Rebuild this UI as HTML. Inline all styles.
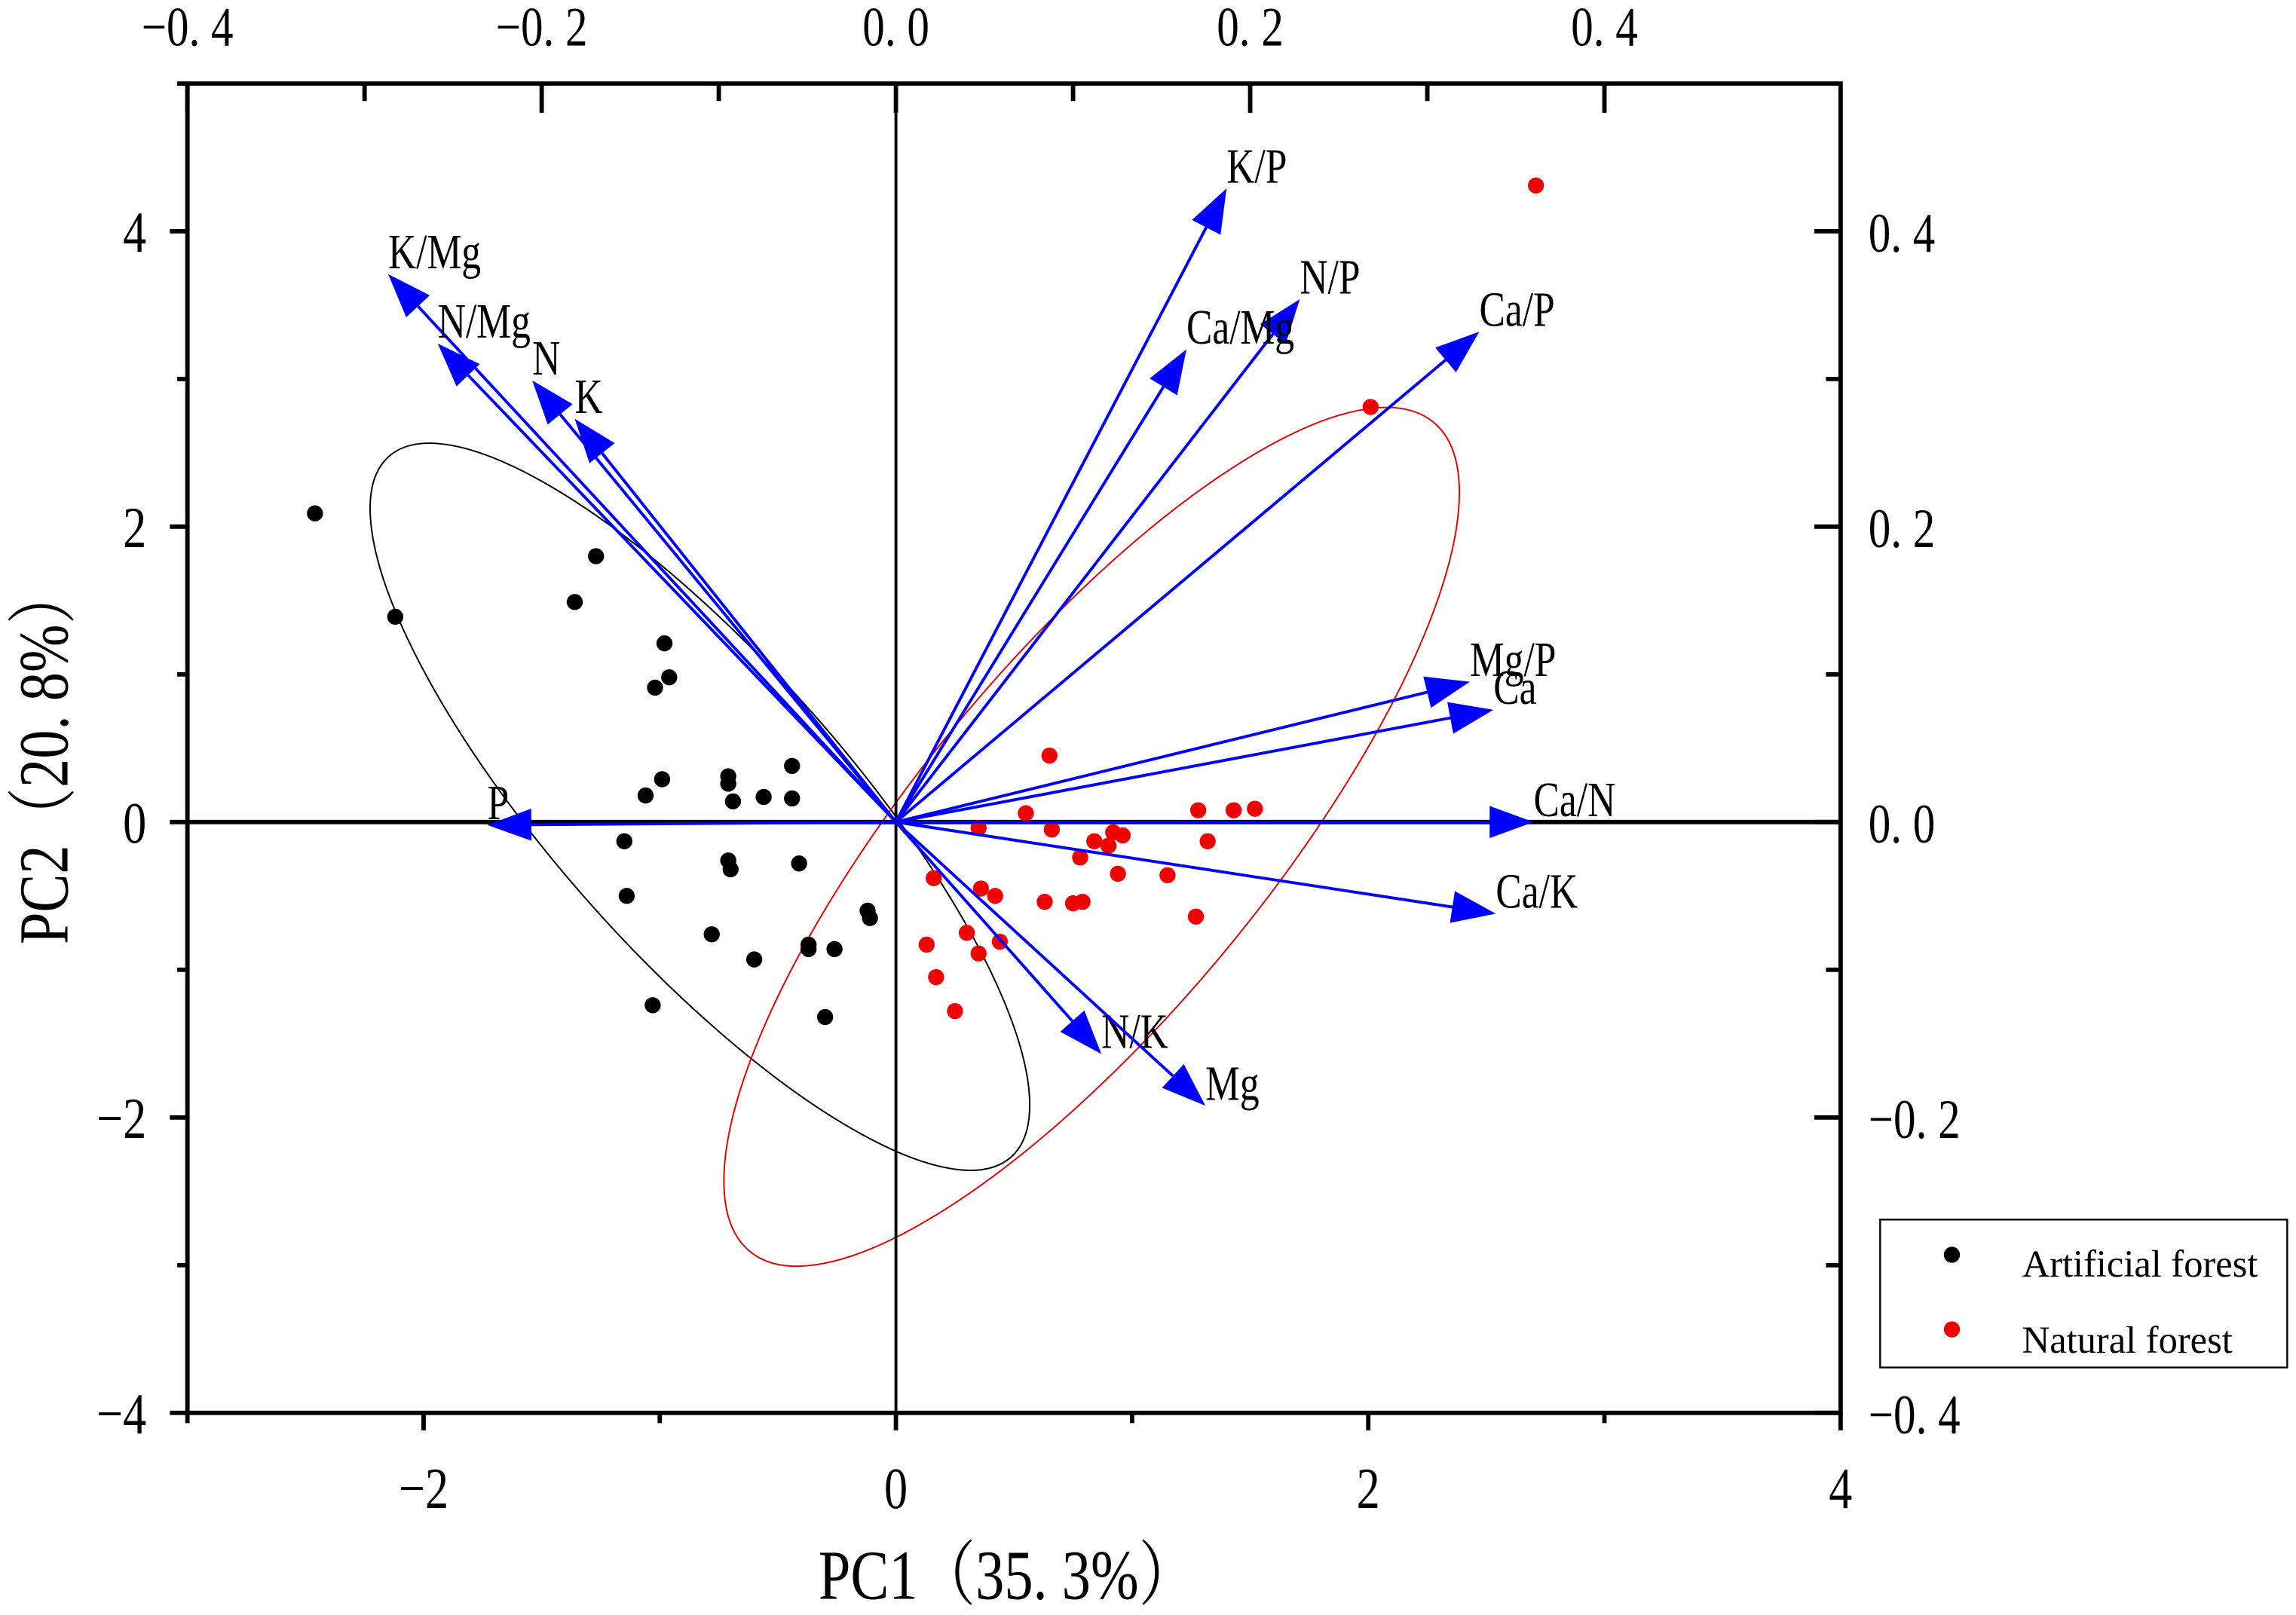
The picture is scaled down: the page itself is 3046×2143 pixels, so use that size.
<!DOCTYPE html>
<html><head><meta charset="utf-8"><style>
html,body{margin:0;padding:0;background:#fff}
svg{display:block}
text{font-family:"Liberation Serif","Noto Serif CJK SC",serif;fill:#000}
</style></head><body>
<svg id="chart" width="3046" height="2143" viewBox="0 0 1568 1103" xmlns="http://www.w3.org/2000/svg">
<g id="plot"></g>
</svg>
<script>
// ---- data ----
const artificialX = [-2.46,-2.12,-1.27,-1.36,-0.98,-1.02,-0.96,-0.99,-1.06,-0.71,-0.71,-0.69,-0.44,-0.56,-0.44,-1.15,-0.71,-0.70,-0.41,-1.14,-0.78,-0.60,-0.37,-0.37,-0.26,-0.12,-0.11,-1.03,-0.30];
const artificialY = [2.09,1.39,1.80,1.49,1.21,0.91,0.98,0.29,0.18,0.31,0.26,0.14,0.38,0.17,0.16,-0.13,-0.26,-0.32,-0.28,-0.50,-0.76,-0.93,-0.83,-0.86,-0.86,-0.60,-0.65,-1.24,-1.32];
const naturalX = [2.71,2.01,0.65,0.55,0.35,0.66,0.84,0.92,0.96,0.90,0.78,1.28,1.43,1.52,1.32,1.15,0.94,0.16,0.36,0.42,0.63,0.75,0.79,1.27,0.13,0.30,0.44,0.35,0.17,0.25];
const naturalY = [4.31,2.81,0.45,0.06,-0.04,-0.05,-0.13,-0.07,-0.09,-0.16,-0.24,0.08,0.08,0.09,-0.13,-0.36,-0.35,-0.38,-0.45,-0.50,-0.54,-0.55,-0.54,-0.64,-0.83,-0.75,-0.81,-0.89,-1.05,-1.28];
const loadingNames = ["K/P","N/P","Ca/Mg","Ca/P","K/Mg","N/Mg","N","K","P","Mg/P","Ca","Ca/N","Ca/K","N/K","Mg"];
const loadingX = [1.40,1.71,1.23,2.47,-2.15,-1.94,-1.54,-1.36,-1.73,2.43,2.53,2.70,2.54,0.87,1.31];
const loadingY = [4.29,3.54,3.20,3.32,3.71,3.24,2.99,2.73,-0.02,0.95,0.76,0.00,-0.62,-1.57,-1.92];
const xTicks = [-2,0,2,4];
const yTicks = [-4,-2,0,2,4];
const topTicks = ["-0.4","-0.2","0.0","0.2","0.4"];
const rightTicks = ["-0.4","-0.2","0.0","0.2","0.4"];

// ---- scales ----
const X0=128,X1=1257,Y0=965,Y1=57, XMIN=-3,XMAX=4,YMIN=-4,YMAX=5;
const sx=v=>X0+(v-XMIN)/(XMAX-XMIN)*(X1-X0);
const sy=v=>Y0-(v-YMIN)/(YMAX-YMIN)*(Y0-Y1);
const NS="http://www.w3.org/2000/svg";
const plot=document.getElementById('plot');
function mk(tag,attrs,parent){const e=document.createElementNS(NS,tag);for(const k in attrs)e.setAttribute(k,attrs[k]);(parent||plot).appendChild(e);return e;}
function txt(s,x,y,size,anchor,sxs){const t=mk('text',{x:0,y:0,'font-size':size,'text-anchor':anchor||'start',transform:`translate(${x},${y}) scale(${sxs||0.8},1)`});t.textContent=s;return t;}

// ellipses
const e1=mk('ellipse',{cx:478,cy:551,rx:320,ry:100,transform:'rotate(48.4 478 551)',fill:'none',stroke:'#000','stroke-width':1});


const e2=mk('ellipse',{cx:745.5,cy:571.5,rx:367,ry:120,transform:'rotate(-50.5 745.5 571.5)',fill:'none',stroke:'#e00000','stroke-width':1});



// zero lines
const zh=mk('line',{x1:X0,x2:X1,y1:sy(0),y2:sy(0),stroke:'#000','stroke-width':3});


const zv=mk('line',{x1:sx(0),x2:sx(0),y1:Y1,y2:Y0,stroke:'#000','stroke-width':2});



// points
artificialX.forEach((x,i)=>{const c=mk('circle',{cx:sx(x),cy:sy(artificialY[i]),r:5.5,fill:'#000'});

});
naturalX.forEach((x,i)=>{const c=mk('circle',{cx:sx(x),cy:sy(naturalY[i]),r:5.5,fill:'#f00000'});

});

// loading arrows
loadingNames.forEach((n,i)=>{
  const ox=sx(0),oy=sy(0),tx=sx(loadingX[i]),ty=sy(loadingY[i]);
  const dx=tx-ox,dy=ty-oy,L=Math.hypot(dx,dy),ux=dx/L,uy=dy/L,hl=30,hw=11;
  const bx=tx-ux*hl,by=ty-uy*hl;
  const g=mk('g',{});
  
  
  mk('line',{x1:ox,y1:oy,x2:bx,y2:by,stroke:'#0000ff','stroke-width':2},g);
  mk('polygon',{points:`${tx},${ty} ${bx-uy*hw},${by+ux*hw} ${bx+uy*hw},${by-ux*hw}`,fill:'#0000ff'},g);
  const t=txt(n,tx,ty-4,34,'start',0.78);
  
  
});

// frame
const fr=mk('rect',{x:X0,y:Y1,width:X1-X0,height:Y0-Y1,fill:'none',stroke:'#000','stroke-width':3});



// bottom axis ticks
for(let v=-3;v<=4;v++){const major=xTicks.includes(v);
  const t=mk('line',{x1:sx(v),x2:sx(v),y1:Y0,y2:Y0+(major?12:7),stroke:'#000','stroke-width':3});
  
  }
xTicks.forEach(v=>{const t=txt(String(v).replace('-','\u2212'),sx(v),1030,40,'middle',0.8);
  
  });
// left axis
for(let v=-4;v<=5;v++){const major=yTicks.includes(v);
  const t=mk('line',{x1:X0-(major?12:7),x2:X0,y1:sy(v),y2:sy(v),stroke:'#000','stroke-width':3});
  
  }
yTicks.forEach(v=>{const t=txt(String(v).replace('-','\u2212'),100,sy(v)+14,40,'end',0.8);
  
  });
// top axis (inward)
topTicks.forEach((s,i)=>{const x=sx(-3+i*1.5);
  const t=mk('line',{x1:x,x2:x,y1:Y1,y2:Y1+20,stroke:'#000','stroke-width':3});
  
  
  const l=txt(s.replace('-','\u2212').replace('.','. '),x,31,38,'middle',0.8);
  
  
  if(i<4){const m=mk('line',{x1:sx(-3+i*1.5+0.75),x2:sx(-3+i*1.5+0.75),y1:Y1,y2:Y1+12,stroke:'#000','stroke-width':3});
  
  }});
// right axis (inward)
rightTicks.forEach((s,i)=>{const y=sy(-4+i*2);
  const t=mk('line',{x1:X1-18,x2:X1,y1:y,y2:y,stroke:'#000','stroke-width':3});
  
  
  const l=txt(s.replace('-','\u2212').replace('.','. '),1276,y+14,38,'start',0.8);
  
  
  if(i<4){const m=mk('line',{x1:X1-10,x2:X1,y1:sy(-3+i*2),y2:sy(-3+i*2),stroke:'#000','stroke-width':3});
  
  }});

// axis titles
const xt=txt('PC1\uFF0835. 3%\uFF09',688,1092,48,'middle',0.82);


const yt=mk('text',{x:0,y:0,'font-size':48,'text-anchor':'middle',transform:'translate(46,516) rotate(-90) scale(0.82,1)'});
yt.textContent='PC2\uFF0820. 8%\uFF09';



// legend
const lg=mk('g',{});


mk('rect',{x:1284,y:833,width:278,height:101,fill:'#fff',stroke:'#000','stroke-width':1.2},lg);
mk('circle',{cx:1333,cy:857,r:5.5,fill:'#000'},lg);
mk('circle',{cx:1333,cy:908,r:5.5,fill:'#f00000'},lg);
const l1=mk('text',{x:1381,y:872,'font-size':26},lg);l1.textContent='Artificial forest';


const l2=mk('text',{x:1381,y:924,'font-size':26},lg);l2.textContent='Natural forest';


</script>
</body></html>
